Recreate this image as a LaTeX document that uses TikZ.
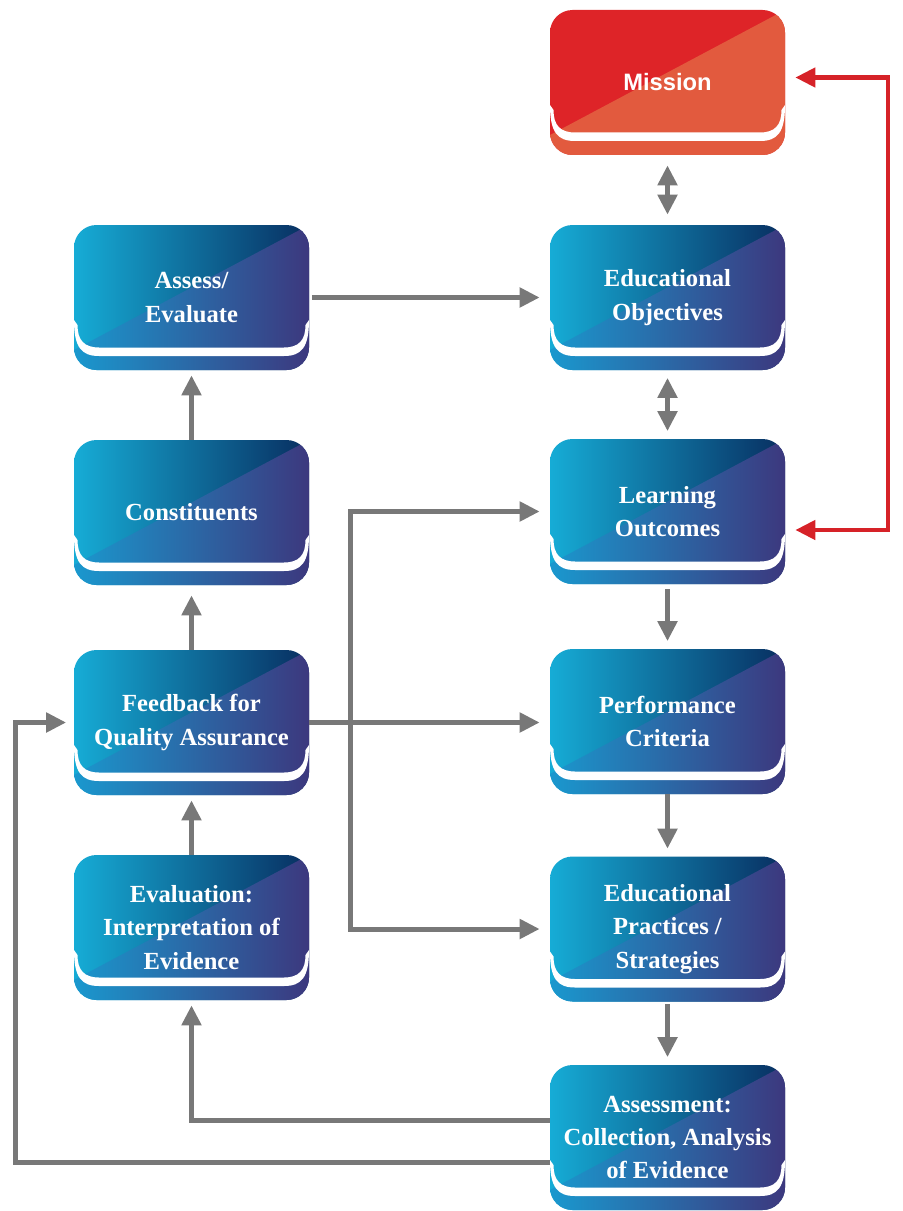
\documentclass[tikz,border=0pt]{standalone}
\usepackage{fontspec}
\setmainfont{Liberation Serif}
\newfontfamily\missionfont{Liberation Sans}
\usepackage{tikz}
\usetikzlibrary{arrows.meta,positioning,calc}
\usepackage{xcolor}
\definecolor{boxcyan}{RGB}{22,172,214}
\definecolor{boxnavy}{RGB}{8,46,96}
\definecolor{boxcyanB}{RGB}{26,152,206}
\definecolor{boxpurple}{RGB}{60,56,126}
\definecolor{misred}{RGB}{222,36,40}
\definecolor{misorange}{RGB}{226,90,62}
\definecolor{arrgray}{RGB}{120,120,120}
\definecolor{looped}{RGB}{214,34,40}

\begin{document}
\begin{tikzpicture}[
  tile/.style n args={4}{rounded corners=0.45cm, minimum width=4.7cm, minimum height=2.9cm,
    inner sep=0pt, text=white, align=center,
    path picture={
      \coordinate (lipL) at (path picture bounding box.south west);
      \coordinate (lipR) at (path picture bounding box.south east);
      \shade[sharp corners, left color=#1, right color=#2]
        (path picture bounding box.south west) rectangle (path picture bounding box.north east);
      \shade[sharp corners, left color=#3, right color=#4]
        ($(lipL)+(0,0.4)$) -- (path picture bounding box.north east) -- (lipR) -- (lipL) -- cycle;
      % white lip
      \fill[white, sharp corners] ($(lipL)+(0,1.0)$) .. controls ($(lipL)+(0,0.45)$) and ($(lipL)+(0.15,0.28)$) .. ($(lipL)+(0.5,0.28)$)
        -- ($(lipR)+(-0.5,0.28)$) .. controls ($(lipR)+(-0.15,0.28)$) and ($(lipR)+(0,0.45)$) .. ($(lipR)+(0,1.0)$)
        -- ($(lipR)+(-0.07,0.9)$) .. controls ($(lipR)+(-0.07,0.6)$) and ($(lipR)+(-0.2,0.45)$) .. ($(lipR)+(-0.5,0.45)$)
        -- ($(lipL)+(0.5,0.45)$) .. controls ($(lipL)+(0.2,0.45)$) and ($(lipL)+(0.07,0.6)$) .. ($(lipL)+(0.07,0.9)$) -- cycle;
    }},
  stage/.style={tile={boxcyan}{boxnavy}{boxcyanB}{boxpurple}, font=\fontsize{14}{19}\selectfont\bfseries},
  mission/.style={tile={misred}{misred}{misorange}{misorange}, font=\missionfont\bfseries\fontsize{13.5}{15}\selectfont},
  arr/.style={-{Triangle[length=0.4cm,width=0.38cm]}, line width=0.1cm, draw=arrgray},
  twoway/.style={{Triangle[length=0.4cm,width=0.38cm]}-{Triangle[length=0.4cm,width=0.38cm]}, line width=0.1cm, draw=arrgray},
  redtwo/.style={{Triangle[length=0.4cm,width=0.38cm]}-{Triangle[length=0.4cm,width=0.38cm]}, line width=0.09cm, draw=looped},
]
\useasboundingbox (0,0) rectangle (18.04,-24.22);

% right column
\node[mission] (mis) at (13.35,-1.65) {Mission};
\node[stage] (obj) at (13.35,-5.95) {Educational\\Objectives};
\node[stage] (out) at (13.35,-10.23) {Learning\\Outcomes};
\node[stage] (crit) at (13.35,-14.43) {Performance\\Criteria};
\node[stage] (prac) at (13.35,-18.58) {Educational\\Practices /\\Strategies};
\node[stage] (coll) at (13.35,-22.75) {Assessment:\\Collection, Analysis\\of Evidence};

% left column
\node[stage] (eval) at (3.83,-5.95) {Assess/\\Evaluate};
\node[stage] (cons) at (3.83,-10.25) {Constituents};
\node[stage] (fdbk) at (3.83,-14.45) {Feedback for\\Quality Assurance};
\node[stage] (intp) at (3.83,-18.55) {Evaluation:\\Interpretation of\\Evidence};

\coordinate (fork) at (7.0,0);
\coordinate (back) at (0.3,0);
\coordinate (loop) at (17.76,0);
\coordinate (c1) at ([yshift=0.35cm]coll.west);
\coordinate (c2) at ([yshift=-0.5cm]coll.west);
\coordinate (mtop) at ([yshift=0.1cm]mis.east);
\coordinate (olow) at ([yshift=-0.37cm]out.east);

% main chain
\draw[twoway, shorten <=0.2cm, shorten >=0.2cm] (mis) -- (obj);
\draw[twoway, shorten <=0.15cm, shorten >=0.15cm] (obj) -- (out);
\draw[arr, shorten <=0.1cm, shorten >=0.15cm] (out) -- (crit);
\draw[arr, shorten >=0.15cm] (crit) -- (prac);
\draw[arr, shorten <=0.05cm, shorten >=0.15cm] (prac) -- (coll);

% feedback side
\draw[arr, shorten <=0.05cm, shorten >=0.2cm] (eval) -- (obj);
\draw[arr, shorten >=0.1cm] (cons) -- (eval);
\draw[arr, shorten >=0.2cm] (fdbk) -- (cons);
\draw[arr, shorten >=0.1cm] (intp) -- (fdbk);
\draw[arr, shorten >=0.2cm] (fdbk.east) -- (fdbk.east -| crit.west);
\draw[twoway, shorten <=0.2cm, shorten >=0.2cm] (out.west) -- (out.west -| fork) -- (prac.west -| fork) -- (prac.west);
\draw[arr, shorten >=0.1cm] (c1) -| (intp.south);
\draw[arr, shorten >=0.15cm] (c2) -| (back |- fdbk.west) -- (fdbk.west);

% mission loop
\draw[redtwo, shorten <=0.2cm, shorten >=0.2cm] (mtop) -- (mtop -| loop) -- (olow -| loop) -- (olow);
\end{tikzpicture}
\end{document}
